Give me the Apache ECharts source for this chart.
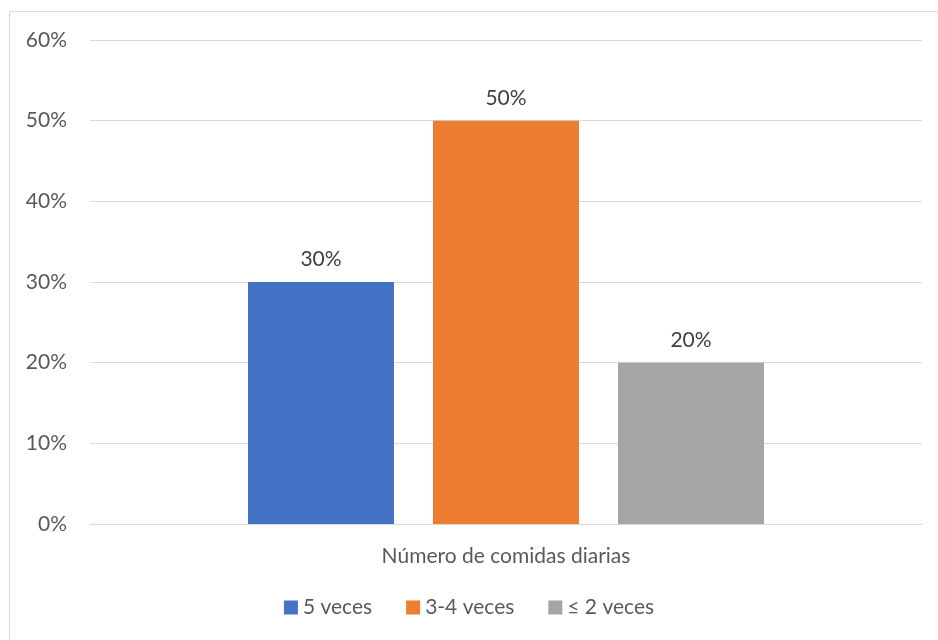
<!DOCTYPE html>
<html><head><meta charset="utf-8">
<script src="https://cdn.jsdelivr.net/npm/echarts@6/dist/echarts.min.js"></script>
<style>html,body{margin:0;padding:0;background:#fff}#c{width:938px;height:640px}</style>
</head><body><div id="c"></div>
<script>
var categories = ['Número de comidas diarias'];
var seriesNames = ['5 veces', '3-4 veces', '≤ 2 veces'];
var seriesValues = [[30], [50], [20]];
var colors = ['#4472C4', '#ED7D31', '#A5A5A5'];
var yTicks = [0, 10, 20, 30, 40, 50, 60];

var FONT = 'Lato, "Open Sans", sans-serif';
var FS = 21;
var chart = echarts.init(document.getElementById('c'), null, {renderer: 'canvas'});
var series = seriesNames.map(function (n, i) {
  return {
    name: n, type: 'bar', data: seriesValues[i],
    barWidth: 146, barGap: '26.7%',
    itemStyle: {color: colors[i]},
    label: {show: true, position: 'top', distance: 12, formatter: '{c}%',
      color: '#404040', fontSize: FS, fontFamily: FONT}
  };
});
chart.setOption({
  animation: false,
  textStyle: {fontFamily: FONT},
  graphic: [{type: 'rect', shape: {x: 9.5, y: 11.5, width: 940, height: 640},
    style: {fill: 'none', stroke: '#d9d9d9', lineWidth: 1}, silent: true}],
  grid: {left: 90, right: 16, top: 40, bottom: 116},
  legend: {bottom: 17, left: 'center', itemWidth: 14, itemHeight: 14, itemGap: 34,
    icon: 'rect', textStyle: {color: '#595959', fontSize: FS, fontFamily: FONT},
    data: seriesNames},
  xAxis: {type: 'category', data: categories,
    axisLine: {lineStyle: {color: '#d9d9d9', width: 1}}, axisTick: {show: false},
    axisLabel: {color: '#595959', fontSize: FS, margin: 22, fontFamily: FONT}},
  yAxis: {type: 'value', min: yTicks[0], max: yTicks[yTicks.length - 1], interval: 10,
    axisLine: {show: false}, axisTick: {show: false},
    splitLine: {lineStyle: {color: '#d9d9d9', width: 1}},
    axisLabel: {formatter: '{value}%', color: '#595959', fontSize: FS, margin: 23, fontFamily: FONT}},
  series: series
});
</script></body></html>
